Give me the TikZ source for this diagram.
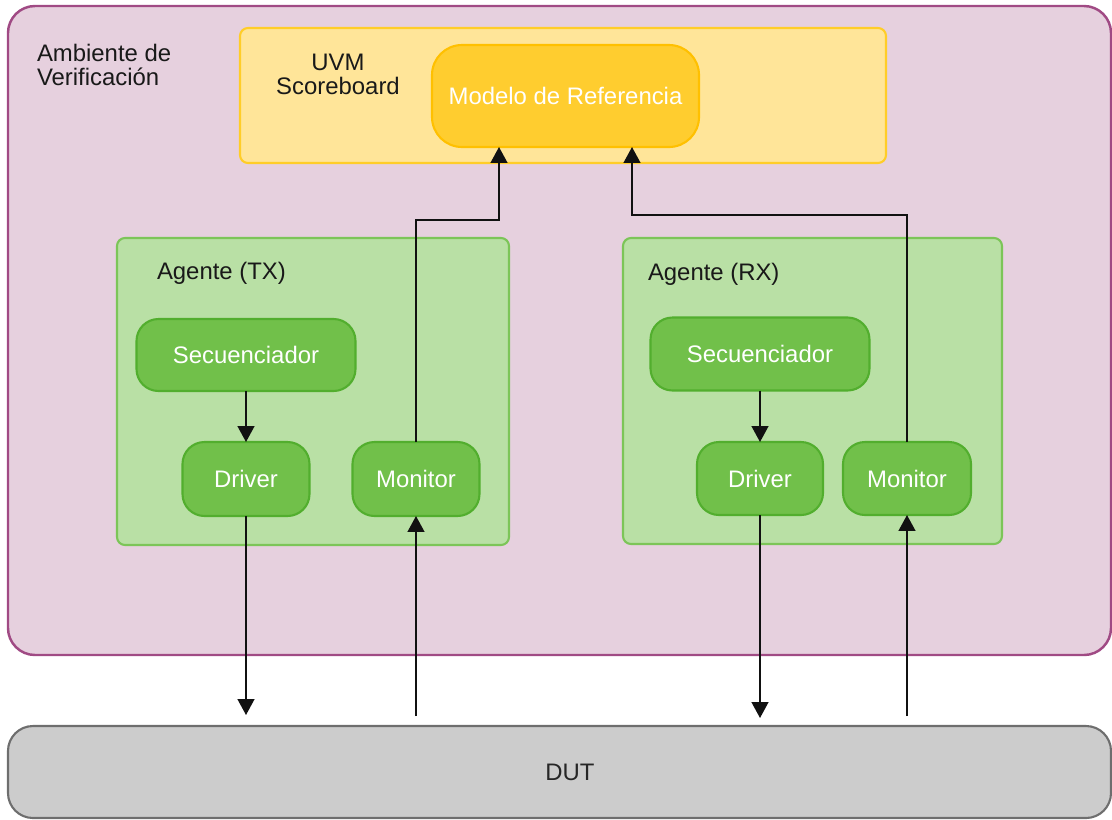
\documentclass[tikz,border=0pt]{standalone}
\usepackage{fontspec}
\setmainfont{Liberation Sans}
\usetikzlibrary{arrows.meta}

\definecolor{envfill}{HTML}{E6D0DE}
\definecolor{envline}{HTML}{A04A84}
\definecolor{scfill}{HTML}{FFE599}
\definecolor{scline}{HTML}{FFCD28}
\definecolor{refill}{HTML}{FFCD2F}
\definecolor{reline}{HTML}{FFC000}
\definecolor{agfill}{HTML}{B9E0A5}
\definecolor{agline}{HTML}{7CC558}
\definecolor{blkfill}{HTML}{71C04A}
\definecolor{blkline}{HTML}{52AE2E}
\definecolor{dutfill}{HTML}{CCCCCC}
\definecolor{dutline}{HTML}{6E6E6E}
\definecolor{wire}{HTML}{111111}

\begin{document}
\begin{tikzpicture}[x=0.02cm, y=-0.02cm,
  every node/.style={inner sep=0pt, outer sep=0pt, font=\fontsize{13.6}{13.6}\selectfont},
  envbox/.style={draw=envline, fill=envfill, line width=1.4pt, rounded corners=0.54cm},
  scbox/.style={draw=scline, fill=scfill, line width=1.2pt, rounded corners=0.16cm},
  refbox/.style={draw=reline, fill=refill, line width=1.2pt, rounded corners=0.6cm, text=white},
  agbox/.style={draw=agline, fill=agfill, line width=1.2pt, rounded corners=0.16cm},
  blkbox/.style={draw=blkline, fill=blkfill, line width=1.2pt, rounded corners=0.44cm, text=white},
  dutbox/.style={draw=dutline, fill=dutfill, line width=1.2pt, rounded corners=0.5cm, text=black!85},
  lbl/.style={anchor=west, align=left, text=black!90},
  arr/.style={draw=wire, line width=1pt, -{Triangle[width=9.5pt,length=9pt]}}
]
\useasboundingbox (0,0) rectangle (1112,819);

% verification environment and DUT
\node[envbox, minimum width=1103*0.02cm, minimum height=649*0.02cm] (env) at (559.5,330.5) {};
\node[lbl] (envlbl) at (37,65) {Ambiente de\\Verificación};
\node[dutbox, minimum width=1103*0.02cm, minimum height=92*0.02cm] (dut) at (559.5,772) {\hspace*{12pt}DUT};

% scoreboard with reference model
\node[scbox, minimum width=646*0.02cm, minimum height=135*0.02cm] (score) at (563,95.5) {};
\node[align=center, text=black!90] (sclbl) at (338,74) {UVM\\Scoreboard};
\node[refbox, minimum width=267*0.02cm, minimum height=102*0.02cm] (modelo) at (565.5,96) {Modelo de Referencia};

% TX agent
\node[agbox, minimum width=392*0.02cm, minimum height=307*0.02cm] (agtx) at (313,391.5) {};
\node[lbl] (agtxlbl) at (157,273) {Agente (TX)};
\node[blkbox, minimum width=219*0.02cm, minimum height=72*0.02cm] (secx) at (246,355) {Secuenciador};
\node[blkbox, minimum width=127*0.02cm, minimum height=74*0.02cm] (drvx) at (246,479) {Driver};
\node[blkbox, minimum width=127*0.02cm, minimum height=74*0.02cm] (monx) at (416,479) {Monitor};

% RX agent
\node[agbox, minimum width=379*0.02cm, minimum height=306*0.02cm] (agrx) at (812.5,391) {};
\node[lbl] (agrxlbl) at (648,274) {Agente (RX)};
\node[blkbox, minimum width=219*0.02cm, minimum height=73*0.02cm] (secrx) at (760,354) {Secuenciador};
\node[blkbox, minimum width=126*0.02cm, minimum height=73*0.02cm] (drvrx) at (760,478.5) {Driver};
\node[blkbox, minimum width=128*0.02cm, minimum height=73*0.02cm] (monrx) at (907,478.5) {Monitor};

% free ends and bends of the connectors
\coordinate (dtxout) at (246,715);
\coordinate (mtxin) at (416,716);
\coordinate (drxout) at (760,718);
\coordinate (mrxin) at (907,716);
\coordinate (jtx) at (499,220);
\coordinate (jrx) at (632,215);

% connectors
\draw[arr] (secx) -- (drvx);
\draw[arr] (secrx) -- (drvrx);
\draw[arr] (drvx) -- (dtxout);
\draw[arr] (mtxin) -- (monx);
\draw[arr] (drvrx) -- (drxout);
\draw[arr] (mrxin) -- (monrx);
\draw[arr] (monx.north) |- (jtx) -- (jtx |- modelo.south);
\draw[arr] (monrx.north) |- (jrx) -- (jrx |- modelo.south);
\end{tikzpicture}
\end{document}
